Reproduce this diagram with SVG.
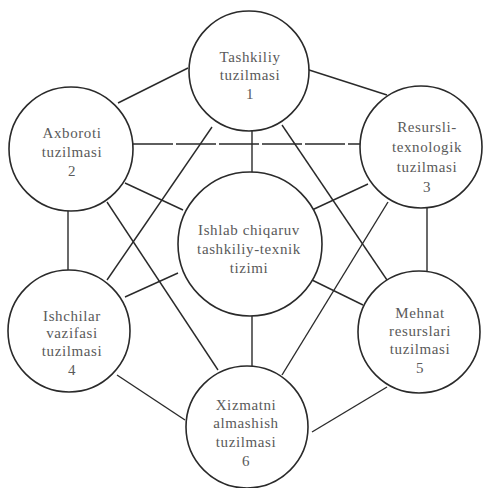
<svg xmlns="http://www.w3.org/2000/svg" width="486" height="488" viewBox="0 0 486 488">
<style>
.n{fill:#fff;stroke:#2a2a2a;stroke-width:1.6}
.c line{stroke:#2a2a2a;stroke-width:1.4}
.t{font-family:"Liberation Serif","Times New Roman",serif;font-size:15px;fill:#5a5a5a;text-anchor:middle;letter-spacing:0.6px}
</style>
<rect width="486" height="488" fill="#fff"/>
<g id="connectors" class="c">
<line x1="118" y1="103" x2="188" y2="68"/>
<line x1="306" y1="69" x2="387" y2="95"/>
<line x1="133" y1="144" x2="360" y2="144" stroke-width="1.1" stroke-dasharray="40 3"/>
<line x1="252" y1="128" x2="252" y2="174"/>
<line x1="212" y1="127" x2="107" y2="280"/>
<line x1="282" y1="125" x2="387" y2="280"/>
<line x1="125" y1="183" x2="183" y2="210"/>
<line x1="68" y1="208" x2="68" y2="272"/>
<line x1="107" y1="202" x2="218" y2="370"/>
<line x1="368" y1="184" x2="312" y2="210"/>
<line x1="427" y1="206" x2="427" y2="274"/>
<line x1="388" y1="202" x2="282" y2="375"/>
<line x1="125" y1="297" x2="178" y2="273"/>
<line x1="117" y1="375" x2="185" y2="420"/>
<line x1="312" y1="280" x2="363" y2="305"/>
<line x1="252" y1="315" x2="252" y2="369"/>
<line x1="312" y1="432" x2="387" y2="387"/>
</g>
<g id="n1"><circle class="n" cx="249" cy="71" r="60"/>
<text class="t" x="250" y="62">Tashkiliy</text><text class="t" x="250" y="80">tuzilmasi</text><text class="t" x="250" y="99">1</text></g>
<g id="n2"><circle class="n" cx="71" cy="149" r="62"/>
<text class="t" x="72" y="138">Axboroti</text><text class="t" x="72" y="157">tuzilmasi</text><text class="t" x="72" y="176">2</text></g>
<g id="n3"><circle class="n" cx="421" cy="147" r="61"/>
<text class="t" x="427" y="132">Resursli-</text><text class="t" x="427" y="152">texnologik</text><text class="t" x="427" y="172">tuzilmasi</text><text class="t" x="427" y="192">3</text></g>
<g id="center"><circle class="n" cx="250" cy="244" r="72"/>
<text class="t" x="249" y="235">Ishlab chiqaruv</text><text class="t" x="249" y="254">tashkiliy-texnik</text><text class="t" x="249" y="273">tizimi</text></g>
<g id="n4"><circle class="n" cx="69" cy="331" r="61"/>
<text class="t" x="72" y="321">Ishchilar</text><text class="t" x="72" y="338">vazifasi</text><text class="t" x="72" y="356">tuzilmasi</text><text class="t" x="72" y="375">4</text></g>
<g id="n5"><circle class="n" cx="419" cy="332" r="61"/>
<text class="t" x="420" y="318">Mehnat</text><text class="t" x="420" y="336">resurslari</text><text class="t" x="420" y="354">tuzilmasi</text><text class="t" x="420" y="373">5</text></g>
<g id="n6"><circle class="n" cx="247" cy="427" r="61"/>
<text class="t" x="246" y="410">Xizmatni</text><text class="t" x="246" y="428">almashish</text><text class="t" x="246" y="447">tuzilmasi</text><text class="t" x="246" y="466">6</text></g>
</svg>
